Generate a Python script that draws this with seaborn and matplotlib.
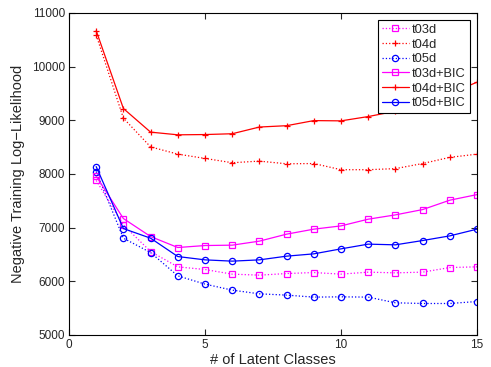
import numpy as np
import pandas as pd
import matplotlib
matplotlib.use("Agg")
import matplotlib.pyplot as plt
import seaborn as sns

# latent classes on x axis
classes = list(range(1, 16))

t03d = [7880, 7050, 6555, 6270, 6220, 6134, 6115, 6145, 6164, 6134, 6171, 6158, 6171, 6257, 6270]
t04d = [10590, 9040, 8505, 8370, 8290, 8210, 8240, 8190, 8195, 8080, 8080, 8100, 8195, 8310, 8370]
t05d = [8045, 6804, 6536, 6102, 5948, 5836, 5767, 5743, 5706, 5711, 5706, 5600, 5587, 5587, 5624]
t03d_bic = [7960, 7170, 6835, 6630, 6667, 6674, 6749, 6879, 6972, 7033, 7158, 7238, 7337, 7512, 7616]
t04d_bic = [10670, 9220, 8780, 8730, 8735, 8750, 8875, 8900, 8995, 8990, 9070, 9170, 9330, 9500, 9710]
t05d_bic = [8138, 6983, 6804, 6462, 6400, 6376, 6400, 6469, 6512, 6605, 6693, 6680, 6760, 6847, 6972]

series = [
    ("t03d", t03d, "#ff00ff", "s", ":"),
    ("t04d", t04d, "#ff0000", "+", ":"),
    ("t05d", t05d, "#0000ff", "o", ":"),
    ("t03d+BIC", t03d_bic, "#ff00ff", "s", "-"),
    ("t04d+BIC", t04d_bic, "#ff0000", "+", "-"),
    ("t05d+BIC", t05d_bic, "#0000ff", "o", "-"),
]
msize = {"s": 4.0, "+": 5.0, "o": 4.5}

sns.set_style("ticks")
plt.rcParams['font.family'] = ['Liberation Sans', 'DejaVu Sans']

fig = plt.figure(figsize=(4.91, 3.67), dpi=100)
ax = fig.add_axes([0.1405, 0.0872, 0.831, 0.8774])

for name, vals, col, mk, ls in series:
    df = pd.DataFrame({"k": classes, "nll": vals})
    extra = {"dashes": (1, 2.5)} if ls == ":" else {}
    sns.lineplot(data=df, x="k", y="nll", ax=ax, color=col, marker=mk,
                 linestyle=ls, linewidth=0.9, markersize=msize[mk],
                 markerfacecolor="none", markeredgecolor=col, markeredgewidth=0.9,
                 label=name, **extra)

ax.set_xlim(0, 15)
ax.set_ylim(5000, 11000)
ax.set_xticks([0, 5, 10, 15])
ax.set_yticks(np.arange(5000, 11001, 1000))
ax.tick_params(direction="in", top=True, right=True, labelsize=8.5, length=4,
               width=0.8, pad=3)
for sp in ax.spines.values():
    sp.set_visible(True)
    sp.set_color("black")
    sp.set_linewidth(0.8)
ax.set_xlabel("# of Latent Classes", fontsize=10.5, labelpad=1)
ax.set_ylabel("Negative Training Log\u2212Likelihood", fontsize=10.5, labelpad=5)

leg = ax.legend(loc="upper right", fontsize=9.3, frameon=True, fancybox=False,
                borderaxespad=0.55, handlelength=2.1, labelspacing=0.2,
                borderpad=0.3, handletextpad=0.25)
leg.get_frame().set_edgecolor("black")
leg.get_frame().set_linewidth(0.8)
leg.get_frame().set_alpha(1)

fig.savefig("out.png", dpi=100)
